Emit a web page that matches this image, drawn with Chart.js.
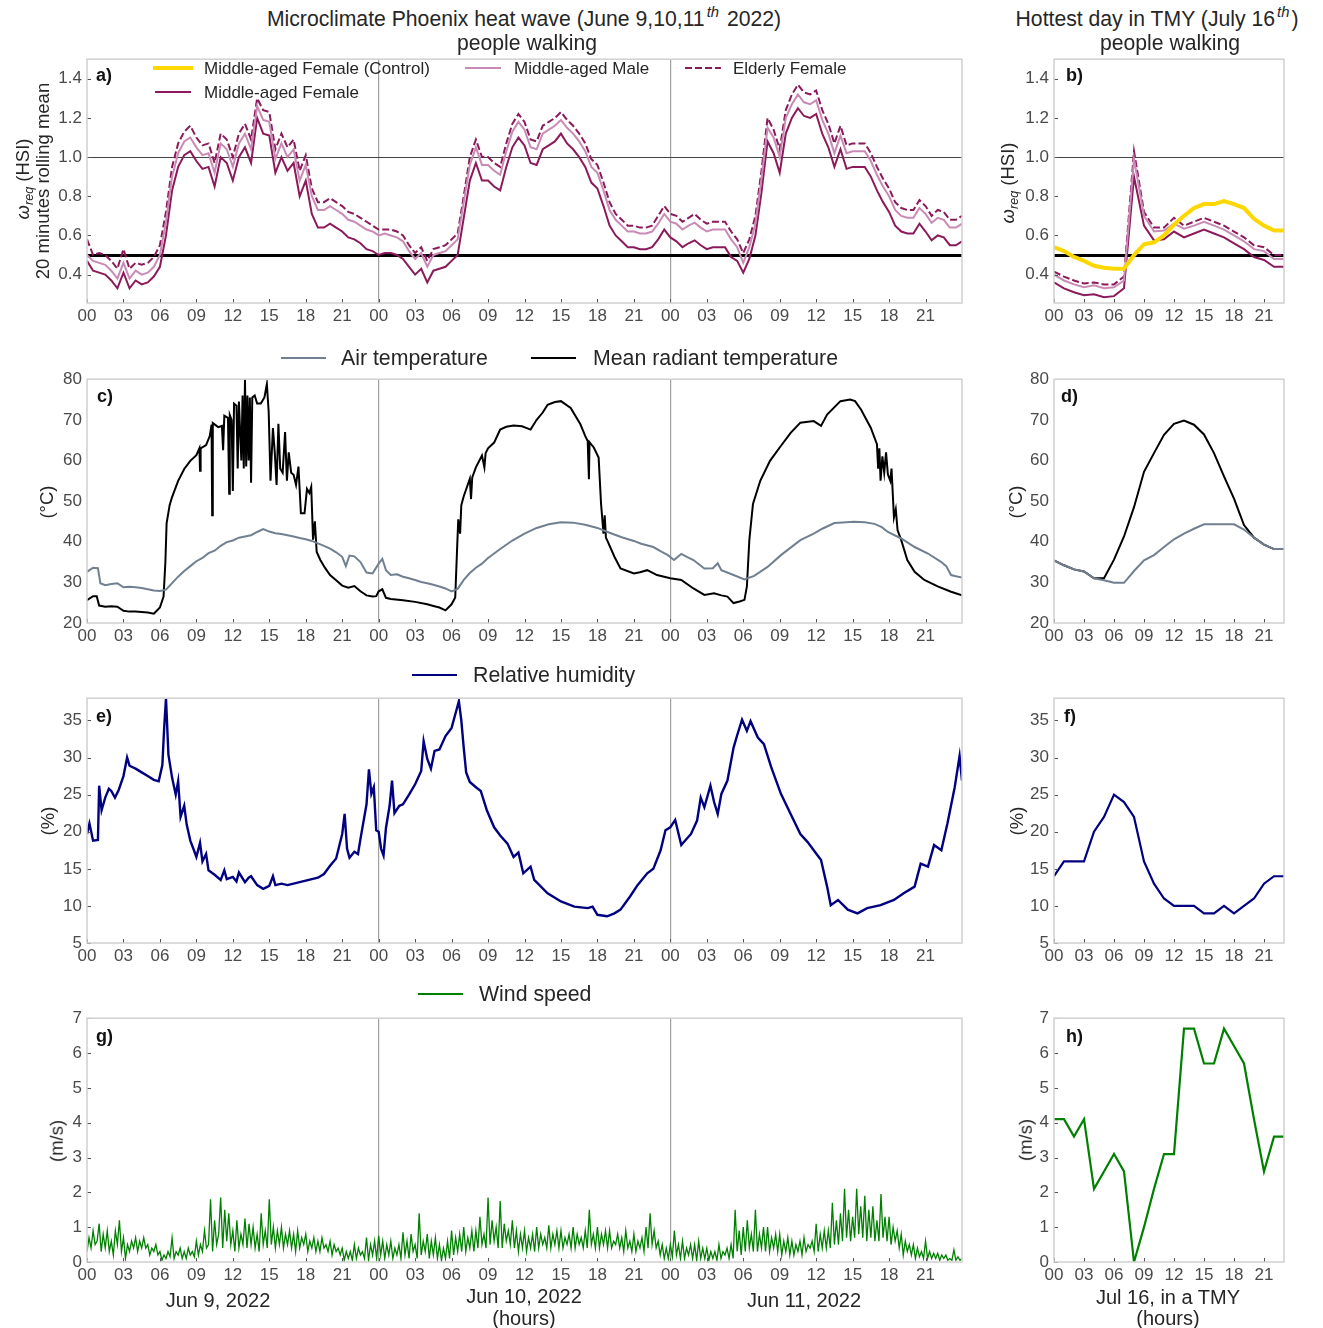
<!DOCTYPE html>
<html>
<head>
<meta charset="utf-8">
<script src="https://cdn.jsdelivr.net/npm/chart.js@4.4.1/dist/chart.umd.min.js"></script>
<style>
  body { margin: 0; background: #fff; font-family: 'Liberation Sans', Arial, sans-serif; }
  #fig { position: relative; width: 1323px; height: 1328px; overflow: hidden; }
  #fig canvas { position: absolute; z-index: 1; }
  .txt { position: absolute; z-index: 2; white-space: nowrap; color: #262626; line-height: 1; transform: translate(-50%, -50%); }
  .left { transform: translate(0, -50%); }
  .rot { transform: translate(-50%, -50%) rotate(-90deg); font-size: 18.5px; }
  .panel { font-weight: bold; font-size: 18px; color: #111; transform: translate(0, -50%); }
  .title { font-size: 21.2px; }
  .legbig { font-size: 21.3px; }
  sup { font-size: 0.7em; font-style: italic; vertical-align: 0.6em; line-height: 0; margin: 0 2px 0 2px; }
  sub { font-size: 0.68em; font-style: italic; vertical-align: -0.3em; line-height: 0; }
  svg.leg { position: absolute; z-index: 2; }
</style>
</head>
<body>
<div id="fig">
  <!-- titles -->
  <div class="txt title" style="left:524px;top:19px">Microclimate Phoenix heat wave (June 9,10,11<sup>th</sup> 2022)</div>
  <div class="txt title" style="left:527px;top:43px">people walking</div>
  <div class="txt title" style="left:1157px;top:19px">Hottest day in TMY (July 16<sup>th</sup>)</div>
  <div class="txt title" style="left:1170px;top:43px">people walking</div>

  <!-- legend a -->
  <svg class="leg" style="left:153px;top:63px" width="40" height="10"><line x1="0" y1="5" x2="40" y2="5" stroke="#FFD700" stroke-width="4"/></svg>
  <div class="txt left" style="left:204px;top:68px;font-size:17px">Middle-aged Female (Control)</div>
  <svg class="leg" style="left:465px;top:63px" width="36" height="10"><line x1="0" y1="5" x2="36" y2="5" stroke="#C98BB5" stroke-width="2"/></svg>
  <div class="txt left" style="left:514px;top:68px;font-size:17px">Middle-aged Male</div>
  <svg class="leg" style="left:685px;top:63px" width="36" height="10"><line x1="0" y1="5" x2="36" y2="5" stroke="#8B1A5A" stroke-width="2" stroke-dasharray="7,3"/></svg>
  <div class="txt left" style="left:733px;top:68px;font-size:17px">Elderly Female</div>
  <svg class="leg" style="left:155px;top:87px" width="36" height="10"><line x1="0" y1="5" x2="36" y2="5" stroke="#8B1A5A" stroke-width="2"/></svg>
  <div class="txt left" style="left:204px;top:92px;font-size:17px">Middle-aged Female</div>

  <!-- legend c -->
  <svg class="leg" style="left:281px;top:353px" width="45" height="10"><line x1="0" y1="5" x2="45" y2="5" stroke="#708090" stroke-width="2"/></svg>
  <div class="txt left legbig" style="left:341px;top:359px">Air temperature</div>
  <svg class="leg" style="left:531px;top:353px" width="45" height="10"><line x1="0" y1="5" x2="45" y2="5" stroke="#000" stroke-width="2"/></svg>
  <div class="txt left legbig" style="left:593px;top:359px">Mean radiant temperature</div>

  <!-- legend e -->
  <svg class="leg" style="left:412px;top:670px" width="45" height="10"><line x1="0" y1="5" x2="45" y2="5" stroke="#000080" stroke-width="2"/></svg>
  <div class="txt left legbig" style="left:473px;top:676px">Relative humidity</div>

  <!-- legend g -->
  <svg class="leg" style="left:418px;top:989px" width="45" height="10"><line x1="0" y1="5" x2="45" y2="5" stroke="#008000" stroke-width="2"/></svg>
  <div class="txt left legbig" style="left:479px;top:995px">Wind speed</div>

  <!-- panel letters -->
  <div class="txt panel" style="left:96px;top:75px">a)</div>
  <div class="txt panel" style="left:1066px;top:75px">b)</div>
  <div class="txt panel" style="left:97px;top:396px">c)</div>
  <div class="txt panel" style="left:1061px;top:396px">d)</div>
  <div class="txt panel" style="left:96px;top:716px">e)</div>
  <div class="txt panel" style="left:1064px;top:716px">f)</div>
  <div class="txt panel" style="left:96px;top:1036px">g)</div>
  <div class="txt panel" style="left:1066px;top:1036px">h)</div>

  <!-- y titles -->
  <div class="txt rot" style="left:23px;top:179px"><i>ω</i><sub>req</sub> (HSI)</div>
  <div class="txt rot" style="left:43px;top:181px">20 minutes rolling mean</div>
  <div class="txt rot" style="left:1008px;top:183px"><i>ω</i><sub>req</sub> (HSI)</div>
  <div class="txt rot" style="left:47px;top:502px">(°C)</div>
  <div class="txt rot" style="left:1016px;top:502px">(°C)</div>
  <div class="txt rot" style="left:48px;top:821px">(%)</div>
  <div class="txt rot" style="left:1017px;top:821px">(%)</div>
  <div class="txt rot" style="left:57px;top:1141px">(m/s)</div>
  <div class="txt rot" style="left:1026px;top:1140px">(m/s)</div>

  <!-- x titles -->
  <div class="txt" style="left:218px;top:1300px;font-size:20px">Jun 9, 2022</div>
  <div class="txt" style="left:524px;top:1296px;font-size:20px">Jun 10, 2022</div>
  <div class="txt" style="left:524px;top:1318px;font-size:20px">(hours)</div>
  <div class="txt" style="left:804px;top:1300px;font-size:20px">Jun 11, 2022</div>
  <div class="txt" style="left:1168px;top:1297px;font-size:20px">Jul 16, in a TMY</div>
  <div class="txt" style="left:1168px;top:1318px;font-size:20px">(hours)</div>
</div>

<script>
// ---------- tick values ----------
const heatWaveTicks = [0, 3, 6, 9, 12, 15, 18, 21, 24, 27, 30, 33, 36, 39, 42, 45, 48, 51, 54, 57, 60, 63, 66, 69];
const tmyTicks = [0, 3, 6, 9, 12, 15, 18, 21];
const hsiTicks = [0.4, 0.5, 0.6, 0.8, 1.0, 1.2, 1.4];
const tempTicks = [20, 30, 40, 50, 60, 70, 80];
const rhTicks = [5, 10, 15, 20, 25, 30, 35];
const windTicks = [0, 1, 2, 3, 4, 5, 6, 7];

// ---------- a) HSI, half-hourly, Jun 9-11 ----------
const hsiFemale = [
  0.47,0.42,0.41,0.40,0.37,0.33,0.41,0.33,0.37,0.35,0.36,0.39,0.44,0.60,0.83,0.95,1.01,1.03,0.98,0.94,0.95,0.85,1.00,0.97,0.88,1.00,1.05,0.97,1.20,1.12,1.11,0.92,1.00,0.93,0.97,0.80,0.88,0.71,0.64,0.64,0.66,0.64,0.62,0.59,0.58,0.56,0.53,0.52,0.50,
  0.51,0.51,0.50,0.48,0.44,0.40,0.43,0.36,0.42,0.43,0.44,0.47,0.50,0.69,0.88,0.97,0.88,0.88,0.85,0.83,0.95,1.05,1.10,1.06,0.97,0.96,1.04,1.06,1.08,1.12,1.07,1.04,1.00,0.95,0.87,0.84,0.75,0.65,0.60,0.57,0.54,0.54,0.53,0.53,0.54,0.58,0.63,0.59,
  0.57,0.54,0.56,0.575,0.55,0.53,0.54,0.54,0.54,0.49,0.47,0.41,0.48,0.60,0.82,1.08,1.02,0.92,1.12,1.20,1.25,1.21,1.20,1.22,1.12,1.05,0.95,1.04,0.94,0.95,0.95,0.95,0.90,0.83,0.77,0.72,0.65,0.62,0.61,0.61,0.66,0.62,0.575,0.60,0.59,0.55,0.55,0.57
];
const hsiMale = [
  0.50,0.47,0.46,0.45,0.42,0.38,0.46,0.38,0.42,0.40,0.41,0.44,0.50,0.67,0.90,1.02,1.08,1.10,1.05,1.01,1.02,0.92,1.07,1.04,0.95,1.07,1.12,1.04,1.26,1.19,1.18,0.99,1.07,1.00,1.04,0.88,0.96,0.80,0.73,0.73,0.75,0.73,0.71,0.68,0.67,0.65,0.63,0.62,0.60,
  0.61,0.60,0.59,0.57,0.52,0.48,0.51,0.44,0.50,0.51,0.52,0.55,0.58,0.77,0.96,1.05,0.96,0.96,0.93,0.91,1.03,1.13,1.18,1.14,1.05,1.04,1.12,1.14,1.16,1.19,1.15,1.12,1.08,1.03,0.95,0.92,0.83,0.73,0.68,0.65,0.62,0.62,0.61,0.61,0.62,0.66,0.71,0.67,
  0.66,0.63,0.65,0.665,0.64,0.62,0.63,0.63,0.63,0.58,0.54,0.46,0.54,0.66,0.89,1.15,1.10,1.00,1.20,1.27,1.32,1.28,1.27,1.29,1.19,1.12,1.02,1.11,1.02,1.03,1.03,1.03,0.98,0.91,0.85,0.80,0.73,0.70,0.69,0.69,0.74,0.71,0.665,0.69,0.68,0.64,0.64,0.66
];
const hsiElderly = [
  0.58,0.50,0.51,0.50,0.47,0.43,0.53,0.43,0.46,0.45,0.46,0.49,0.55,0.72,0.95,1.07,1.13,1.16,1.10,1.06,1.07,0.97,1.12,1.09,1.00,1.12,1.17,1.09,1.30,1.24,1.23,1.04,1.12,1.05,1.09,0.93,1.01,0.84,0.77,0.77,0.79,0.77,0.75,0.72,0.71,0.69,0.67,0.65,0.63,
  0.63,0.63,0.62,0.60,0.55,0.51,0.54,0.47,0.53,0.54,0.55,0.58,0.61,0.80,1.00,1.09,1.00,1.00,0.97,0.95,1.07,1.17,1.22,1.18,1.09,1.08,1.16,1.18,1.20,1.23,1.19,1.16,1.12,1.07,0.99,0.96,0.87,0.77,0.71,0.68,0.65,0.65,0.64,0.64,0.65,0.70,0.75,0.71,
  0.70,0.67,0.69,0.71,0.68,0.66,0.67,0.67,0.67,0.62,0.58,0.51,0.58,0.70,0.93,1.20,1.14,1.04,1.24,1.32,1.37,1.33,1.32,1.34,1.24,1.17,1.07,1.16,1.06,1.07,1.07,1.07,1.02,0.95,0.89,0.84,0.77,0.74,0.73,0.73,0.78,0.75,0.70,0.73,0.72,0.68,0.68,0.70
];

// ---------- b) HSI, hourly, TMY Jul 16 ----------
const tmyHours = [0,1,2,3,4,5,6,7,8,9,10,11,12,13,14,15,16,17,18,19,20,21,22,23];
const tmyControl = [0.54,0.52,0.49,0.47,0.445,0.435,0.43,0.43,0.50,0.555,0.565,0.60,0.655,0.70,0.74,0.76,0.76,0.775,0.76,0.74,0.685,0.65,0.625,0.625];
const tmyFemale  = [0.36,0.33,0.31,0.295,0.30,0.285,0.29,0.33,0.90,0.65,0.575,0.58,0.62,0.59,0.61,0.63,0.61,0.59,0.56,0.53,0.49,0.475,0.44,0.44];
const tmyMale    = [0.40,0.37,0.35,0.335,0.345,0.33,0.335,0.37,0.99,0.70,0.62,0.625,0.66,0.635,0.65,0.67,0.65,0.63,0.60,0.57,0.53,0.52,0.48,0.48];
const tmyElderly = [0.415,0.39,0.37,0.355,0.36,0.35,0.35,0.39,1.03,0.72,0.64,0.64,0.69,0.65,0.67,0.69,0.67,0.65,0.62,0.59,0.55,0.54,0.50,0.50];

// ---------- c) temperatures, [hour, degC] ----------
const airTemp = [[0,32.6],[0.5,33.6],[0.9,33.5],[1.1,29.8],[1.5,29.3],[2,29.6],[2.5,29.8],[3,28.8],[3.5,28.9],[4,28.8],[4.5,28.6],[5,28.3],[5.5,28.0],[6,27.9],[6.5,28.2],[7,29.8],[7.5,31.4],[8,32.8],[8.5,34.0],[9,35.2],[9.5,36.0],[10,37.2],[10.5,37.8],[11,39.0],[11.5,39.9],[12,40.3],[12.5,41.0],[13,41.3],[13.5,41.6],[14,42.4],[14.5,43.1],[15,42.5],[15.5,42.1],[16,41.9],[16.5,41.6],[17,41.3],[17.5,40.9],[18,40.6],[18.5,40.2],[19,39.6],[19.5,39.0],[20,38.3],[20.5,37.4],[21,36.3],[21.3,34.0],[21.6,36.6],[22,36.4],[22.5,35.0],[23,32.4],[23.5,32.2],[24,34.6],[24.3,35.8],[24.6,33.0],[25,31.8],[25.5,32.0],[26,31.4],[26.5,31.0],[27,30.6],[27.5,30.1],[28,29.8],[28.5,29.4],[29,29.0],[29.5,28.5],[30,27.8],[30.5,28.4],[31,30.6],[31.5,32.3],[32,33.6],[32.5,34.6],[33,36.0],[34,38.2],[35,40.3],[36,42.0],[37,43.4],[38,44.3],[39,44.8],[40,44.7],[41,44.2],[42,43.4],[43,42.2],[44,41.1],[45,40.2],[45.6,39.5],[46.6,38.7],[47.3,37.5],[47.8,36.7],[48.3,35.5],[48.9,37.0],[49.4,36.2],[49.9,35.5],[50.8,33.4],[51.5,33.5],[51.9,34.7],[52.2,33.0],[53.2,31.8],[54.1,30.7],[54.9,31.6],[56,33.8],[57.1,36.7],[58.7,40.4],[59.8,42.0],[60.5,43.2],[61.5,44.6],[62.5,44.8],[63.1,44.9],[64,44.8],[64.8,44.4],[65.4,43.6],[65.9,42.4],[67,40.8],[68.1,38.7],[69.2,37.1],[70.3,35.0],[70.7,34.0],[71.1,31.8],[71.5,31.5],[72,31.2]];
const mrtTemp = [[0,25.6],[0.5,26.6],[0.8,26.6],[1,24.3],[1.5,24.0],[2,24.1],[2.5,24.0],[3,23.0],[3.5,22.8],[4,22.8],[4.5,22.7],[5,22.6],[5.5,22.3],[6,23.8],[6.3,26.5],[6.45,35],[6.55,44.5],[6.8,49],[7,51],[7.5,55],[8,57.9],[8.5,59.9],[9,61.3],[9.25,63.0],[9.3,57.5],[9.35,63.0],[9.8,63.8],[10.1,66],[10.25,68.8],[10.3,46.5],[10.35,69.2],[10.8,68.2],[11.1,68.5],[11.2,62.5],[11.3,71.0],[11.6,70.5],[11.7,51.8],[11.75,71.2],[11.9,70.0],[12.0,52.5],[12.1,74.0],[12.3,73.5],[12.4,58],[12.5,74.5],[12.7,60],[12.8,76],[12.9,58],[13.0,80],[13.1,58.5],[13.2,76],[13.3,60],[13.4,75.5],[13.5,54.5],[13.6,75.5],[13.8,76.0],[14,74.0],[14.3,74.0],[14.6,75.5],[14.8,78.8],[14.95,72],[15.1,55],[15.3,68],[15.45,62],[15.6,54],[15.75,69],[15.9,58],[16.1,57],[16.3,67],[16.45,55],[16.6,62],[16.8,57],[17.0,56.5],[17.2,54],[17.4,58.5],[17.6,47],[17.9,47],[18.1,53],[18.3,52],[18.45,53.5],[18.6,40.5],[18.75,45],[18.9,37.5],[19.2,35.5],[19.6,33.5],[20,31.8],[20.5,30.5],[21,29.2],[21.5,28.7],[22,29.1],[22.5,27.8],[23,26.8],[23.5,26.5],[23.8,26.6],[24,27.8],[24.3,28.3],[24.6,26.2],[25,25.9],[26,25.6],[27,25.2],[28,24.6],[28.5,24.2],[29,23.8],[29.5,23.1],[30,24.6],[30.3,26.3],[30.45,38],[30.55,45.5],[30.7,42],[30.8,49],[31,51.2],[31.5,55.5],[31.6,50.5],[31.7,55.8],[32,58.3],[32.5,61.2],[32.7,58.3],[32.8,61.8],[33,63],[33.5,64.4],[34,67.6],[34.5,68.3],[35.1,68.6],[35.8,68.4],[36.5,67.6],[37,70],[37.5,71.8],[37.9,73.7],[38.5,74.4],[39,74.6],[39.8,72.9],[40.6,68.9],[41.0,66.0],[41.2,64.8],[41.3,55.4],[41.35,64.5],[41.7,63.2],[42.1,60.7],[42.3,49.3],[42.5,42.0],[42.6,46.5],[42.7,41],[42.8,40.4],[43.4,36.3],[43.9,33.4],[45,32.2],[45.5,32.5],[46.1,33.0],[46.9,31.8],[48,31.0],[48.9,30.6],[49.9,28.5],[50.8,26.9],[51.6,27.3],[52.2,26.8],[52.7,26.5],[53.2,24.9],[53.7,25.3],[54.1,25.7],[54.3,29.0],[54.5,40.4],[54.8,49.3],[55.4,55.0],[56.2,59.9],[57,63.2],[57.9,66.8],[58.7,69.3],[59.8,69.7],[60.4,68.5],[60.9,71.3],[62,74.6],[62.8,75.0],[63.2,74.6],[63.7,72.5],[64.5,68.0],[65,64.0],[65.1,58],[65.2,63],[65.3,55],[65.45,61],[65.6,57],[65.75,62],[65.9,56.6],[66.1,55],[66.2,58],[66.4,46.0],[66.55,48],[66.7,42.8],[67,40.4],[67.5,35.5],[68.1,32.6],[68.9,30.6],[70,29.0],[71.1,27.7],[72,26.8]];

// ---------- d) temperatures TMY ----------
const tmyAir = [35.4,34.2,33.2,32.7,31.0,30.5,29.9,29.9,32.8,35.4,36.7,38.7,40.6,42.0,43.2,44.3,44.3,44.3,44.3,43.0,41.0,39.3,38.2,38.2];
const tmyMrt = [35.4,34.2,33.2,32.7,31.0,31.0,35.6,41.3,48.5,57.2,61.8,66.3,69.0,69.8,68.8,66.4,61.8,56.1,50.6,44.1,41.0,39.3,38.2,38.2];

// ---------- e) relative humidity, [hour, %] ----------
const relHumidity = [[0,19.7],[0.2,21.1],[0.5,18.8],[0.9,18.9],[1.0,26.2],[1.2,22.9],[1.5,24.6],[1.8,25.8],[2,25.5],[2.3,24.6],[2.6,25.6],[3,27.5],[3.3,30.0],[3.5,28.9],[4,28.5],[4.5,28.0],[5,27.5],[5.5,27.0],[5.9,26.8],[6.2,29.0],[6.35,34.0],[6.5,38.0],[6.7,30.4],[7,27.3],[7.3,25.0],[7.5,26.8],[7.7,22.0],[8,23.5],[8.2,21],[8.5,18.8],[8.8,17.5],[9,16.6],[9.3,18.5],[9.5,16.0],[9.8,17.0],[10,14.8],[10.5,14.2],[11,13.5],[11.3,14.8],[11.5,13.6],[12,13.9],[12.3,13.3],[12.5,14.5],[13,13.2],[13.3,13.8],[13.5,14.0],[14,12.8],[14.5,12.3],[15,12.7],[15.3,14.0],[15.5,12.8],[16,13.0],[16.5,12.8],[17,13.0],[17.5,13.2],[18,13.4],[18.5,13.6],[19,13.8],[19.5,14.3],[20,15.4],[20.5,16.4],[21,19.7],[21.2,22.4],[21.4,17.7],[21.6,16.5],[22,17.3],[22.3,17.0],[22.5,19.0],[23,23.7],[23.2,28.4],[23.4,25.1],[23.6,26.0],[23.8,20.2],[24,20.0],[24.2,17.7],[24.4,16.8],[24.6,20.5],[24.9,23.5],[25.1,26.9],[25.3,22.5],[25.7,23.5],[26,23.7],[26.5,25.0],[27,26.4],[27.5,28.2],[27.7,32.2],[28,29.8],[28.3,28.5],[28.6,30.9],[29,31.1],[29.5,32.9],[30,34.0],[30.3,35.8],[30.6,37.6],[30.8,35.0],[31,31.3],[31.2,28.0],[31.5,26.7],[32,26.0],[32.4,25.5],[32.9,22.9],[33.5,20.6],[34,19.5],[34.6,18.4],[35.1,16.6],[35.5,17.2],[35.9,14.4],[36.5,15.3],[36.8,13.5],[37.9,11.7],[39,10.6],[40.1,9.9],[41.2,9.7],[41.6,9.9],[42,8.8],[42.8,8.6],[43.4,9.0],[43.9,9.5],[44.7,11.3],[45.3,12.8],[46.1,14.4],[46.6,15.0],[47.2,17.5],[47.6,20.2],[48,20.6],[48.4,21.6],[48.9,18.2],[49.7,19.7],[50.2,21.5],[50.5,24.6],[50.8,23.3],[51.3,26.2],[51.6,24.0],[51.9,22.4],[52.2,25.1],[52.7,26.9],[53.2,31.3],[53.5,33.0],[53.9,35.1],[54.3,33.6],[54.6,34.9],[55.2,32.7],[55.7,31.8],[56.3,28.7],[57.1,25.1],[57.9,22.4],[58.7,19.7],[59.3,18.6],[59.8,17.5],[60.4,16.2],[60.9,12.6],[61.2,10.1],[61.8,10.8],[62.6,9.5],[63.4,9.0],[64.2,9.7],[65.3,10.1],[66.4,10.8],[67.2,11.7],[68.1,12.6],[68.6,15.7],[69.2,15.3],[69.7,18.2],[70.3,17.5],[70.8,21.1],[71.4,26.0],[71.8,30.2],[72,26.9]];

// ---------- f) relative humidity TMY ----------
const tmyRh = [14,16,16,16,20,22,25,24,22,16,13,11,10,10,10,9,9,10,9,10,11,13,14,14];

// ---------- g) wind speed, every 10 minutes (one row of six per hour) ----------
const windSpeed = [
  0.3,0.7,0.4,0.9,0.5,0.6, 1.1,0.3,0.8,0.4,0.9,0.3, 0.6,0.2,0.9,0.5,1.2,0.3, 0.7,0.1,0.5,0.3,0.6,0.4,
  0.7,0.3,0.6,0.4,0.7,0.4, 0.5,0.2,0.4,0.3,0.5,0.2, 0.3,0.05,0.2,0.1,0.3,0.15, 0.7,0.1,0.3,0.2,0.4,0.1,
  0.3,0.1,0.4,0.2,0.3,0.15, 0.6,0.2,0.5,0.3,0.9,0.4, 0.5,1.8,0.3,1.2,0.5,0.8, 1.85,0.4,1.5,0.6,1.4,0.5,
  0.9,0.3,1.2,0.4,0.8,0.5, 1.25,0.4,1.1,0.5,1.0,0.4, 0.8,0.3,1.4,0.5,0.9,0.4, 1.8,0.5,1.0,0.4,0.9,0.5,
  1.0,0.4,0.8,0.5,0.9,0.4, 0.8,0.3,0.9,0.4,0.7,0.5, 0.8,0.3,0.6,0.4,0.7,0.3, 0.6,0.3,0.7,0.4,0.5,0.3,
  0.6,0.2,0.5,0.3,0.4,0.2, 0.4,0.05,0.3,0.1,0.3,0.05, 0.5,0.1,0.4,0.2,0.3,0.1, 0.7,0.05,0.5,0.2,0.6,0.1,
  0.75,0.2,0.6,0.1,0.5,0.2, 0.6,0.1,0.4,0.2,0.5,0.1, 0.85,0.2,0.6,0.1,0.8,0.3, 0.5,0.1,1.4,0.2,0.6,0.3,
  0.8,0.1,0.6,0.2,0.7,0.1, 0.5,0.05,0.4,0.1,0.6,0.1, 0.9,0.2,0.7,0.3,0.8,0.3, 1.0,0.3,0.7,0.4,0.9,0.3,
  0.9,0.4,1.3,0.5,0.8,0.4, 1.85,0.5,1.2,0.6,1.0,0.4, 1.75,0.4,1.1,0.6,0.9,0.5, 1.2,0.4,0.9,0.3,0.8,0.4,
  0.9,0.3,0.7,0.4,0.8,0.3, 1.0,0.4,0.8,0.5,0.7,0.4, 1.05,0.4,0.8,0.5,0.9,0.4, 0.9,0.4,0.7,0.5,0.8,0.4,
  1.0,0.4,0.8,0.5,0.7,0.4, 0.9,0.4,1.5,0.5,0.8,0.4, 1.0,0.4,0.8,0.5,0.9,0.4, 0.9,0.4,0.6,0.5,0.8,0.4,
  0.7,0.3,0.9,0.4,0.6,0.3, 0.8,0.3,0.6,0.4,0.7,0.3, 1.0,0.4,1.4,0.5,0.9,0.4, 0.6,0.2,0.5,0.1,0.4,0.1,
  0.5,0.15,0.9,0.2,0.5,0.1, 0.6,0.1,0.4,0.2,0.5,0.1, 0.5,0.05,0.6,0.1,0.4,0.1, 0.4,0.05,0.3,0.1,0.3,0.05,
  0.5,0.1,0.3,0.2,0.4,0.1, 0.5,0.1,1.5,0.3,0.9,0.2, 1.0,0.3,1.2,0.4,0.8,0.3, 1.5,0.3,0.8,0.4,1.0,0.3,
  1.0,0.3,0.7,0.4,0.8,0.3, 0.8,0.2,0.6,0.3,0.7,0.2, 0.6,0.2,0.5,0.3,0.6,0.2, 0.7,0.3,0.5,0.4,0.6,0.3,
  1.1,0.3,0.8,0.4,0.9,0.4, 0.9,0.4,1.7,0.5,1.2,0.5, 1.4,0.6,2.1,0.7,1.5,0.6, 1.3,0.7,2.1,0.8,1.6,0.7,
  1.9,0.6,1.5,0.7,1.6,0.6, 1.2,0.6,1.95,0.7,1.3,0.6, 1.3,0.5,1.0,0.6,0.9,0.4, 0.8,0.2,0.6,0.3,0.5,0.2,
  0.5,0.1,0.4,0.15,0.3,0.1, 0.6,0.1,0.3,0.1,0.25,0.1, 0.25,0.05,0.2,0.1,0.2,0.05, 0.1,0.05,0.35,0.05,0.15,0.05,
  0.1
];

// ---------- h) wind speed TMY ----------
const tmyWind = [4.1,4.1,3.6,4.1,2.1,2.6,3.1,2.6,0.0,1.0,2.1,3.1,3.1,6.7,6.7,5.7,5.7,6.7,6.2,5.7,4.1,2.6,3.6,3.6];

// ---------- colours ----------
const FEMALE = '#8B1A5A', MALE = '#C98BB5', CONTROL = '#FFD700';
const AIR = '#708090', MRT = '#000000', RH = '#000080', WIND = '#008000';
const TICK_COLOR = '#4a4a4a';

Chart.defaults.font.family = "'Liberation Sans', Arial, sans-serif";

const halfHours = hsiFemale.map((_, i) => i / 2);
const tenMinutes = windSpeed.map((_, i) => i / 6);
const xy = (xs, ys) => ys.map((y, i) => ({ x: xs[i], y: y }));
const pairs = arr => arr.map(p => ({ x: p[0], y: p[1] }));

// frame round the plot area plus short inward tick marks
const framePlugin = {
  id: 'frame',
  afterDraw(chart, args, opts) {
    const { ctx, chartArea: a, scales } = chart;
    ctx.save();
    ctx.strokeStyle = '#555';
    ctx.lineWidth = 1;
    ctx.beginPath();
    scales.x.ticks.forEach(t => {
      const px = Math.round(scales.x.getPixelForValue(t.value)) + 0.5;
      ctx.moveTo(px, a.bottom); ctx.lineTo(px, a.bottom - 4);
    });
    if (opts.yTicks) {
      scales.y.ticks.forEach(t => {
        if ((opts.skip || []).includes(t.value)) return;
        const py = Math.round(scales.y.getPixelForValue(t.value)) + 0.5;
        ctx.moveTo(a.left, py); ctx.lineTo(a.left + 4, py);
      });
    }
    ctx.stroke();
    ctx.strokeStyle = '#d0d0d0';
    ctx.lineWidth = 1.5;
    ctx.strokeRect(a.left, a.top, a.right - a.left, a.bottom - a.top);
    ctx.restore();
  }
};

const fig = document.getElementById('fig');

function drawPanel(o) {
  const padTop = 14, padRight = 10, axisW = 60, axisH = 30;
  const cv = document.createElement('canvas');
  cv.width = o.w + axisW + padRight;
  cv.height = o.h + padTop + axisH;
  cv.style.left = (o.left - axisW) + 'px';
  cv.style.top = (o.top - padTop) + 'px';
  fig.appendChild(cv);

  new Chart(cv.getContext('2d'), {
    type: 'line',
    data: { datasets: o.datasets },
    options: {
      responsive: false,
      animation: false,
      events: [],
      layout: { padding: { top: padTop, right: padRight, left: 0, bottom: 0 } },
      elements: { point: { radius: 0 }, line: { tension: 0 } },
      plugins: {
        legend: { display: false },
        tooltip: { enabled: false },
        frame: { yTicks: o.yTickMarks, skip: o.skip }
      },
      scales: {
        x: {
          type: 'linear', min: 0, max: o.xMax,
          afterBuildTicks: s => { s.ticks = o.xTicks.map(v => ({ value: v })); },
          afterFit: s => { s.height = axisH; },
          ticks: {
            callback: v => String(v % 24).padStart(2, '0'),
            color: TICK_COLOR, font: { size: 17 }, padding: 3, maxRotation: 0, autoSkip: false
          },
          grid: {
            drawTicks: false, lineWidth: 1.2,
            color: c => (c.tick && c.tick.value > 0 && c.tick.value % 24 === 0) ? '#a0a0a0' : 'rgba(0,0,0,0)'
          },
          border: { display: false }
        },
        y: {
          type: 'linear', min: o.yMin, max: o.yMax,
          afterBuildTicks: s => { s.ticks = o.yTicks.map(v => ({ value: v })); },
          afterFit: s => { s.width = axisW; },
          ticks: { callback: o.yFmt, color: TICK_COLOR, font: { size: 17 }, padding: 5, autoSkip: false },
          grid: {
            drawTicks: false,
            color: c => o.hsiLines && c.tick ? (c.tick.value === 1 ? '#444' : c.tick.value === 0.5 ? '#000' : 'rgba(0,0,0,0)') : 'rgba(0,0,0,0)',
            lineWidth: c => (c.tick && c.tick.value === 0.5) ? 3 : 1
          },
          border: { display: false }
        }
      }
    },
    plugins: [framePlugin]
  });
}

const line = (data, color, width, dash) => ({
  data: data, borderColor: color, borderWidth: width, borderDash: dash || [],
  pointRadius: 0, fill: false, tension: 0
});

const hsiFmt = v => (v === 0.5 ? '' : v.toFixed(1));
const intFmt = v => String(v);

const LEFT = { left: 87, w: 875, xMax: 72, xTicks: heatWaveTicks };
const RIGHT = { left: 1054, w: 230, xMax: 23, xTicks: tmyTicks };
const ROWS = [58, 378, 697, 1017];
const H = 245;

// a)
drawPanel(Object.assign({}, LEFT, {
  top: ROWS[0], h: H, yMin: 0.255, yMax: 1.5, yTicks: hsiTicks, yFmt: hsiFmt,
  hsiLines: true, yTickMarks: true, skip: [0.5],
  datasets: [
    line(xy(halfHours, hsiMale), MALE, 2),
    line(xy(halfHours, hsiElderly), FEMALE, 2, [7, 3]),
    line(xy(halfHours, hsiFemale), FEMALE, 2)
  ]
}));
// b)
drawPanel(Object.assign({}, RIGHT, {
  top: ROWS[0], h: H, yMin: 0.255, yMax: 1.5, yTicks: hsiTicks, yFmt: hsiFmt,
  hsiLines: true, yTickMarks: true, skip: [0.5],
  datasets: [
    line(xy(tmyHours, tmyControl), CONTROL, 4),
    line(xy(tmyHours, tmyMale), MALE, 2),
    line(xy(tmyHours, tmyElderly), FEMALE, 2, [7, 3]),
    line(xy(tmyHours, tmyFemale), FEMALE, 2)
  ]
}));
// c)
drawPanel(Object.assign({}, LEFT, {
  top: ROWS[1], h: H, yMin: 20, yMax: 80, yTicks: tempTicks, yFmt: intFmt, yTickMarks: false,
  datasets: [line(pairs(airTemp), AIR, 2), line(pairs(mrtTemp), MRT, 2)]
}));
// d)
drawPanel(Object.assign({}, RIGHT, {
  top: ROWS[1], h: H, yMin: 20, yMax: 80, yTicks: tempTicks, yFmt: intFmt, yTickMarks: false,
  datasets: [line(xy(tmyHours, tmyAir), AIR, 2), line(xy(tmyHours, tmyMrt), MRT, 2)]
}));
// e)
drawPanel(Object.assign({}, LEFT, {
  top: ROWS[2], h: H + 1, yMin: 5, yMax: 38, yTicks: rhTicks, yFmt: intFmt, yTickMarks: true,
  datasets: [line(pairs(relHumidity), RH, 2.4)]
}));
// f)
drawPanel(Object.assign({}, RIGHT, {
  top: ROWS[2], h: H + 1, yMin: 5, yMax: 38, yTicks: rhTicks, yFmt: intFmt, yTickMarks: true,
  datasets: [line(xy(tmyHours, tmyRh), RH, 2.2)]
}));
// g)
drawPanel(Object.assign({}, LEFT, {
  top: ROWS[3], h: H, yMin: 0, yMax: 7, yTicks: windTicks, yFmt: intFmt, yTickMarks: true,
  datasets: [line(xy(tenMinutes, windSpeed), WIND, 1.3)]
}));
// h)
drawPanel(Object.assign({}, RIGHT, {
  top: ROWS[3], h: H, yMin: 0, yMax: 7, yTicks: windTicks, yFmt: intFmt, yTickMarks: true,
  datasets: [line(xy(tmyHours, tmyWind), WIND, 2.2)]
}));
</script>
</body>
</html>
